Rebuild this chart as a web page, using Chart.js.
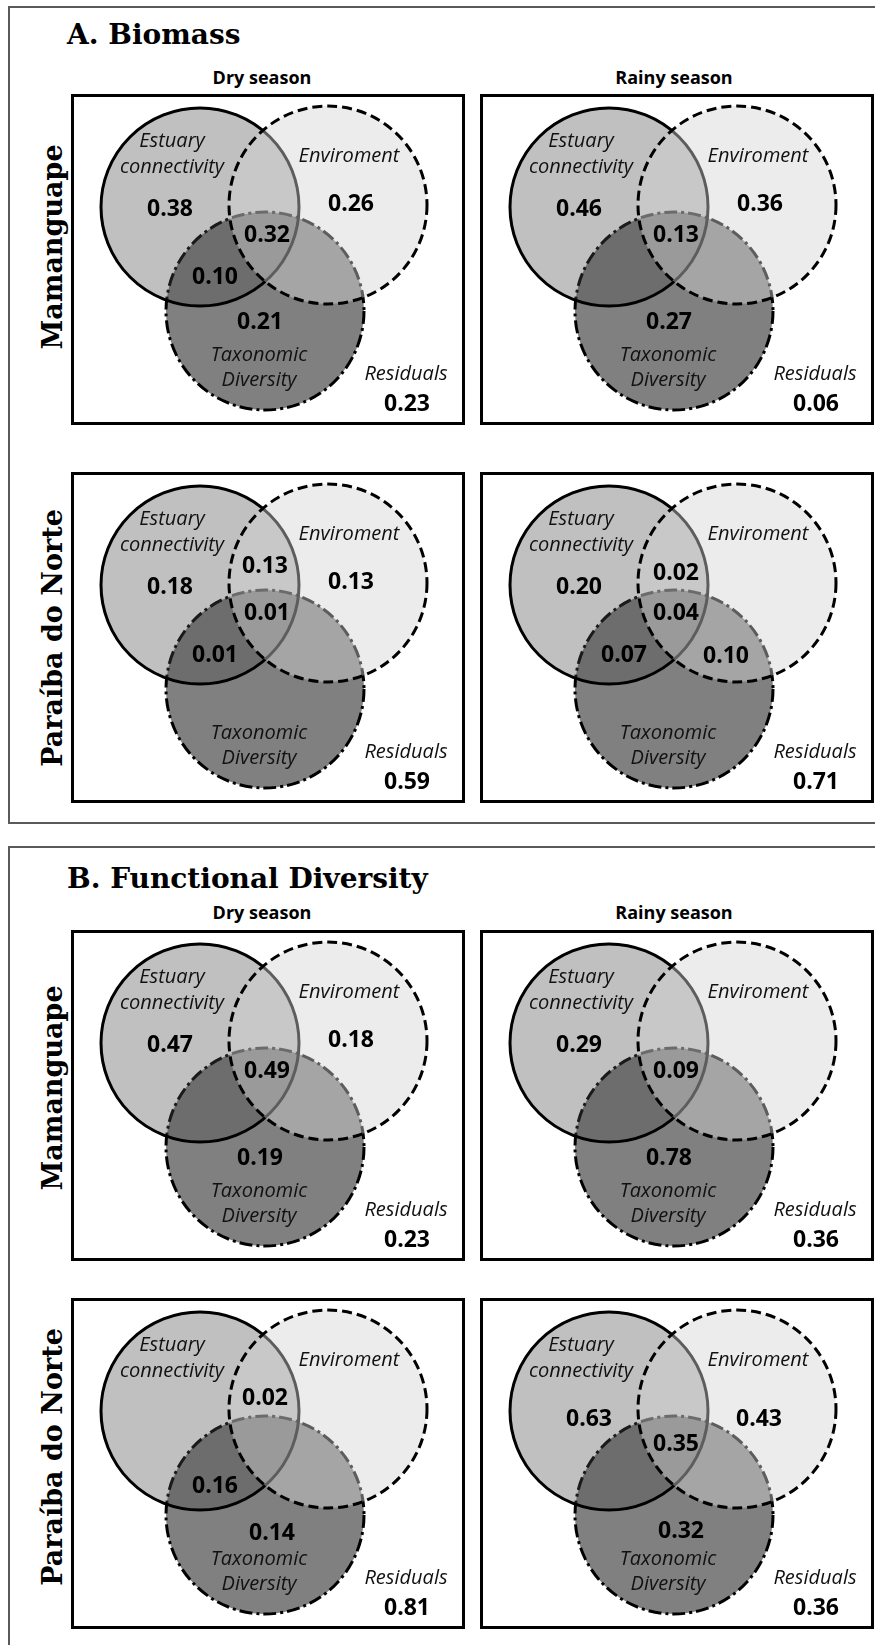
<!DOCTYPE html>
<html>
<head>
<meta charset="utf-8">
<script src="https://cdn.jsdelivr.net/npm/chart.js@4.4.0/dist/chart.umd.min.js"></script>
<style>
  html, body { margin: 0; padding: 0; background: #fff; }
  body { width: 875px; height: 1645px; position: relative; overflow: hidden; }
  .painel { position: absolute; left: 8px; width: 900px; border: 2px solid #5a5a5a; box-sizing: border-box; }
  .titulo { position: absolute; left: 67px; font-family: 'DejaVu Serif', serif; font-weight: bold; font-size: 28px; line-height: 28px; color: #000; white-space: nowrap; }
  .estacao { position: absolute; font-family: 'Open Sans', sans-serif; font-weight: bold; font-size: 18px; line-height: 18px; color: #000; white-space: nowrap; transform: translateX(-50%); }
  .estuario { position: absolute; font-family: 'DejaVu Serif', serif; font-weight: bold; font-size: 27px; line-height: 27px; color: #000; white-space: nowrap; transform: translate(-50%, -50%) rotate(-90deg); }
  canvas { position: absolute; }
</style>
</head>
<body>

<div class="painel" style="top:6px; height:818px;"></div>
<div class="painel" style="top:846px; height:900px;"></div>

<div class="titulo" style="top:21px;">A. Biomass</div>
<div class="titulo" style="top:865px;">B. Functional Diversity</div>

<div class="estacao" id="secaA" style="left:262px; top:68px;"></div>
<div class="estacao" id="chuvaA" style="left:674px; top:68px;"></div>
<div class="estacao" id="secaB" style="left:262px; top:903px;"></div>
<div class="estacao" id="chuvaB" style="left:674px; top:903px;"></div>

<div class="estuario" id="mamA" style="left:52px; top:247px;"></div>
<div class="estuario" id="parA" style="left:52px; top:638px;"></div>
<div class="estuario" id="mamB" style="left:52px; top:1088px;"></div>
<div class="estuario" id="parB" style="left:52px; top:1457px;"></div>

<canvas id="vennA1" width="394" height="331" style="left:71px; top:94px;"></canvas>
<canvas id="vennA2" width="394" height="331" style="left:480px; top:94px;"></canvas>
<canvas id="vennA3" width="394" height="331" style="left:71px; top:472px;"></canvas>
<canvas id="vennA4" width="394" height="331" style="left:480px; top:472px;"></canvas>
<canvas id="vennB1" width="394" height="331" style="left:71px; top:930px;"></canvas>
<canvas id="vennB2" width="394" height="331" style="left:480px; top:930px;"></canvas>
<canvas id="vennB3" width="394" height="331" style="left:71px; top:1298px;"></canvas>
<canvas id="vennB4" width="394" height="331" style="left:480px; top:1298px;"></canvas>

<script>
// dados
const estuarios = ['Mamanguape', 'Paraíba do Norte'];
const estacoes = ['Dry season', 'Rainy season'];

// ordem das regiões: estuário, ambiente, estuário∩ambiente, estuário∩taxonômica,
// ambiente∩taxonômica, as três, taxonômica, resíduos
const regioes = ['Estuary connectivity', 'Enviroment', 'Estuary+Enviroment', 'Estuary+Taxonomic',
  'Enviroment+Taxonomic', 'All three', 'Taxonomic Diversity', 'Residuals'];

const biomassaMamSeca   = [0.38, 0.26, null, 0.10, null, 0.32, 0.21, 0.23];
const biomassaMamChuva  = [0.46, 0.36, null, null, null, 0.13, 0.27, 0.06];
const biomassaParSeca   = [0.18, 0.13, 0.13, 0.01, null, 0.01, null, 0.59];
const biomassaParChuva  = [0.20, null, 0.02, 0.07, 0.10, 0.04, null, 0.71];
const funcionalMamSeca  = [0.47, 0.18, null, null, null, 0.49, 0.19, 0.23];
const funcionalMamChuva = [0.29, null, null, null, null, 0.09, 0.78, 0.36];
const funcionalParSeca  = [null, null, 0.02, 0.16, null, null, 0.14, 0.81];
const funcionalParChuva = [0.63, 0.43, null, null, null, 0.35, 0.32, 0.36];

// textos fixos
document.getElementById('secaA').textContent = estacoes[0];
document.getElementById('chuvaA').textContent = estacoes[1];
document.getElementById('secaB').textContent = estacoes[0];
document.getElementById('chuvaB').textContent = estacoes[1];
document.getElementById('mamA').textContent = estuarios[0];
document.getElementById('parA').textContent = estuarios[1];
document.getElementById('mamB').textContent = estuarios[0];
document.getElementById('parB').textContent = estuarios[1];

// layout (pixels dentro de cada quadro)
const LARG = 394, ALT = 331, RAIO = 99;
const centroEstuario = [129, 113];
const centroAmbiente = [257, 111];
const centroTaxon = [194, 217];
const posValores = [[99, 122], [280, 117], [195, 104], [144, 190], [246, 191], [196, 148], [189, 235], [336, 317]];
const posNomes = [
  ['Estuary', 101, 53], ['connectivity', 101, 79], ['Enviroment', 278, 68],
  ['Taxonomic', 188, 267], ['Diversity', 188, 292], ['Residuals', 335, 286]
];
// pequenos ajustes de posição em alguns quadros (índice da região -> [x, y])
const ajustes = {
  vennA3: { 2: [194, 101] },
  vennA4: { 2: [196, 108] },
  vennB3: { 2: [194, 107], 3: [144, 195], 6: [201, 242] },
  vennB4: { 0: [109, 128], 1: [279, 128], 5: [196, 153], 6: [201, 240] }
};

// plugin: tracejado dos círculos
const tracejado = {
  id: 'tracejado',
  beforeDatasetDraw(chart, args) {
    const ds = chart.data.datasets[args.index];
    chart.ctx.setLineDash(ds.traco || []);
  },
  afterDatasetDraw(chart) {
    chart.ctx.setLineDash([]);
  }
};

// plugin: nomes, valores e moldura
const rotulosVenn = {
  id: 'rotulosVenn',
  afterDraw(chart, args, opts) {
    const { ctx, scales: { x, y } } = chart;
    ctx.save();
    ctx.textAlign = 'center';
    ctx.textBaseline = 'alphabetic';
    ctx.fillStyle = '#111';
    ctx.font = 'italic 20px "Open Sans"';
    posNomes.forEach(n => ctx.fillText(n[0], x.getPixelForValue(n[1]), y.getPixelForValue(n[2])));
    ctx.fillStyle = '#000';
    ctx.font = 'bold 23px "Open Sans"';
    const aj = opts.ajuste || {};
    opts.valores.forEach((v, i) => {
      if (v === null) return;
      const p = aj[i] || posValores[i];
      ctx.fillText(v.toFixed(2), x.getPixelForValue(p[0]), y.getPixelForValue(p[1]));
    });
    ctx.lineWidth = 3;
    ctx.strokeStyle = '#000';
    ctx.strokeRect(1.5, 1.5, chart.width - 3, chart.height - 3);
    ctx.restore();
  }
};

function criarVenn(id, valores) {
  const ctx = document.getElementById(id).getContext('2d');
  new Chart(ctx, {
    type: 'bubble',
    data: {
      datasets: [
        {
          label: 'Enviroment',
          data: [{ x: centroAmbiente[0], y: centroAmbiente[1], r: RAIO }],
          backgroundColor: 'rgba(211,211,211,0.44)',
          borderColor: '#000',
          borderWidth: 3,
          traco: [10, 5],
          clip: false,
          order: 1
        },
        {
          label: 'Estuary connectivity',
          data: [{ x: centroEstuario[0], y: centroEstuario[1], r: RAIO }],
          backgroundColor: 'rgba(75,75,75,0.35)',
          borderColor: '#000',
          borderWidth: 3,
          clip: false,
          order: 2
        },
        {
          label: 'Taxonomic Diversity',
          data: [{ x: centroTaxon[0], y: centroTaxon[1], r: RAIO }],
          backgroundColor: 'rgb(128,128,128)',
          borderColor: '#000',
          borderWidth: 3,
          traco: [13, 4, 3, 4],
          clip: false,
          order: 3
        }
      ]
    },
    options: {
      responsive: false,
      animation: false,
      events: [],
      layout: { padding: 0, autoPadding: false },
      scales: {
        x: { type: 'linear', min: 0, max: LARG, display: false },
        y: { type: 'linear', min: 0, max: ALT, reverse: true, display: false }
      },
      plugins: {
        legend: { display: false },
        tooltip: { enabled: false },
        rotulosVenn: { valores: valores, ajuste: ajustes[id] }
      }
    },
    plugins: [tracejado, rotulosVenn]
  });
}

criarVenn('vennA1', biomassaMamSeca);
criarVenn('vennA2', biomassaMamChuva);
criarVenn('vennA3', biomassaParSeca);
criarVenn('vennA4', biomassaParChuva);
criarVenn('vennB1', funcionalMamSeca);
criarVenn('vennB2', funcionalMamChuva);
criarVenn('vennB3', funcionalParSeca);
criarVenn('vennB4', funcionalParChuva);
</script>
</body>
</html>
